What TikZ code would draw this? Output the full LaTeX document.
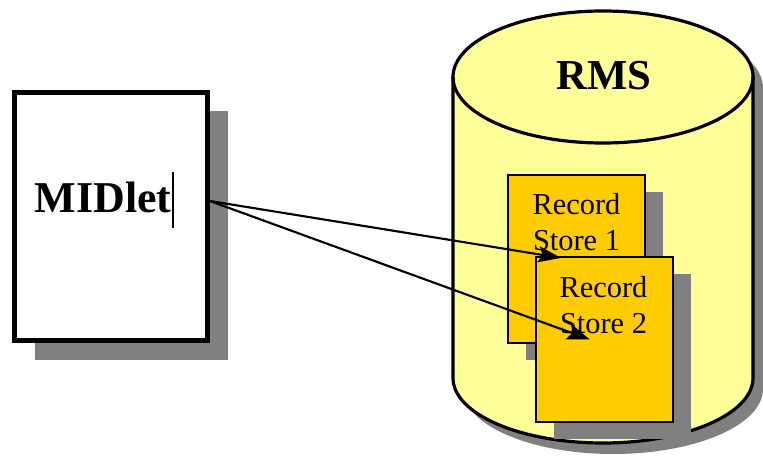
\documentclass[tikz,border=0pt]{standalone}
\usepackage{fontspec}
\setmainfont{Liberation Serif}
\usetikzlibrary{arrows.meta,shadows}
\definecolor{shadowgray}{HTML}{808080}
\definecolor{dbyellow}{HTML}{FFFF99}
\definecolor{storeorange}{HTML}{FFCC00}
\begin{document}
\begin{tikzpicture}[x=0.75pt,y=0.75pt,
  midletbox/.style={draw=black, line width=3.75pt, fill=white,
    minimum width=144.75pt, minimum height=186pt, inner sep=0pt,
    drop shadow={shadow xshift=15pt, shadow yshift=-14.25pt, fill=shadowgray, opacity=1}},
  storebox/.style={draw=black, line width=1.4pt, fill=storeorange,
    minimum width=102.75pt, inner sep=0pt,
    drop shadow={shadow xshift=13.5pt, shadow yshift=-13pt, fill=shadowgray, opacity=1}},
  storetext/.style={anchor=base, font=\fontsize{22.8}{27}\selectfont, inner sep=0pt},
  title/.style={anchor=base, font=\bfseries\fontsize{32}{37}\selectfont, inner sep=0pt},
  link/.style={line width=1.6pt, -{Stealth[length=17pt,width=12pt,inset=3pt]}}
]
\useasboundingbox (0,0) rectangle (763,468);

% MIDlet box
\node[midletbox] (mid) at (111,251.5) {};
\node[font=\bfseries\fontsize{33}{38}\selectfont, anchor=base, inner sep=0pt] (midtxt) at (103,255) {MIDlet};
\draw[line width=0.8pt] (173,296) -- (173,240);

% RMS cylinder: shadow, body, front rim of the lid
\begin{scope}[shift={(10,-11)}]
  \fill[shadowgray] (453,391) arc[start angle=180,end angle=0,x radius=150,y radius=66]
    -- (753,90) arc[start angle=0,end angle=-180,x radius=150,y radius=65] -- cycle;
\end{scope}
\draw[line width=2.4pt, fill=dbyellow] (453,391)
    arc[start angle=180,end angle=0,x radius=150,y radius=66]
    -- (753,90) arc[start angle=0,end angle=-180,x radius=150,y radius=65] -- cycle;
\draw[line width=2.4pt] (453,391) arc[start angle=180,end angle=360,x radius=150,y radius=66];
\node[title] (rms) at (604,378) {RMS};

% record stores
\node[storebox, minimum height=126pt] (rs1) at (576.5,209) {};
\node[storetext] (rs1a) at (576.5,253) {Record};
\node[storetext] (rs1b) at (576.5,217) {Store 1};

\node[storebox, minimum height=123.75pt] (rs2) at (604.5,128.5) {};
\node[storetext] (rs2a) at (603.5,171) {Record};
\node[storetext] (rs2b) at (603.5,135) {Store 2};

% links from the MIDlet to the stores
\draw[link] ([yshift=11.6pt]mid.east) -- ([xshift=-11.6pt,yshift=0.8pt]rs1.center);
\draw[link] ([yshift=11.6pt]mid.east) -- ([xshift=-11pt]rs2.center);
\end{tikzpicture}
\end{document}
